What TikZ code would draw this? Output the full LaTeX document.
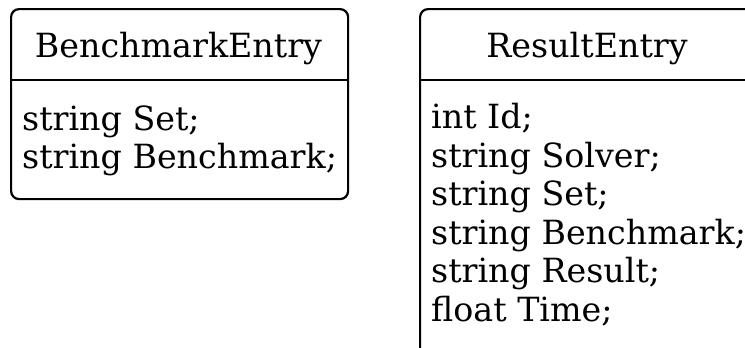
\documentclass[tikz,border=0pt]{standalone}
\usepackage{fontspec}
\setmainfont{DejaVu Serif}
\begin{document}
\begin{tikzpicture}[x=1pt,y=-1pt,
  recbox/.style={draw=black,line width=2.2pt,rounded corners=8pt,inner sep=0pt,anchor=north west},
  divider/.style={draw=black,line width=2.2pt},
  txt/.style={inner sep=0pt,font=\fontsize{33.3}{38.5}\selectfont},
  title/.style={txt,anchor=base},
  attr/.style={txt,anchor=base west}]
\useasboundingbox (0,0) rectangle (745,348);
\clip (0,0) rectangle (745,348);
% BenchmarkEntry
\node[recbox,minimum width=337pt,minimum height=190pt] (b1) at (10,8) {};
\coordinate (b1l) at (10,80);
\coordinate (b1r) at (347,80);
\draw[divider] (b1l) -- (b1r);
\node[title] (b1t) at (178.5,57) {BenchmarkEntry};
\node[attr] (b1a1) at (22,130) {string Set;};
\node[attr] (b1a2) at (22,168) {string Benchmark;};
% ResultEntry
\node[recbox,minimum width=336pt,minimum height=360pt] (b2) at (419,8) {};
\coordinate (b2l) at (419,80);
\coordinate (b2r) at (755,80);
\draw[divider] (b2l) -- (b2r);
\node[title] (b2t) at (587,57) {ResultEntry};
\node[attr] (b2a1) at (431,128.5) {int Id;};
\node[attr] (b2a2) at (431,167) {string Solver;};
\node[attr] (b2a3) at (431,205.5) {string Set;};
\node[attr] (b2a4) at (431,244) {string Benchmark;};
\node[attr] (b2a5) at (431,282.5) {string Result;};
\node[attr] (b2a6) at (431,321) {float Time;};
\end{tikzpicture}
\end{document}
